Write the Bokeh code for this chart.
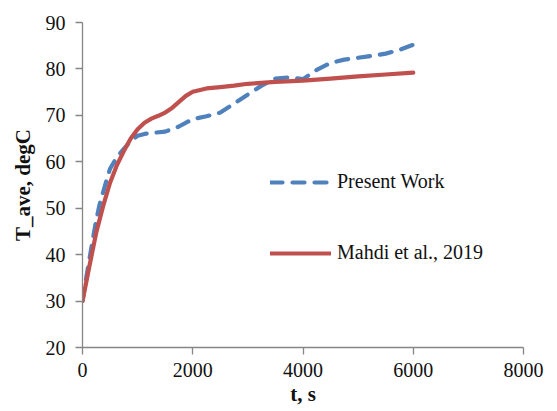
from bokeh.plotting import figure
from bokeh.models import Range1d, FixedTicker, Legend, LegendItem
from bokeh.embed import file_html
from bokeh.resources import INLINE

# Average temperature vs. time, two data sets
t_present = [0, 60, 125, 190, 250, 310, 375, 440, 500, 625, 750, 875, 1000, 1125, 1250,
             1500, 1750, 2000, 2250, 2500, 2750, 3000, 3250, 3500, 3750, 4000, 4250,
             4500, 4750, 5000, 5250, 5500, 5750, 6000]
T_present = [30, 34.5, 39, 43.5, 47.5, 50.8, 53.5, 56.2, 58.5, 61.0, 62.8, 64.5, 65.6, 66.0, 66.2,
             66.5, 67.6, 69.2, 69.8, 70.6, 72.5, 74.5, 76.4, 77.9, 78.2, 77.8, 79.8,
             81.3, 82.0, 82.4, 82.8, 83.3, 84.1, 85.2]

t_mahdi = [0, 125, 250, 375, 500, 625, 750, 875, 1000, 1125, 1250, 1375, 1500, 1625,
           1750, 1875, 2000, 2250, 2500, 2750, 3000, 3500, 4000, 4500, 5000, 5500, 6000]
T_mahdi = [30, 37.5, 44.8, 50.5, 55.5, 59.3, 62.3, 65.0, 67.0, 68.4, 69.3, 69.9, 70.6, 71.6,
           72.9, 74.2, 75.1, 75.8, 76.1, 76.4, 76.8, 77.2, 77.5, 77.9, 78.4, 78.8, 79.2]

x_ticks = [0, 2000, 4000, 6000, 8000]
y_ticks = [20, 30, 40, 50, 60, 70, 80, 90]

series_names = ["Present Work", "Mahdi et al., 2019"]
BLUE = "#4F81BD"
RED = "#C0504D"
AXIS_GRAY = "#868686"
SERIF = "Liberation Serif"

p = figure(width=557, height=411, output_backend="svg", toolbar_location=None,
           x_range=Range1d(0, 8000), y_range=Range1d(20, 90),
           min_border_left=82, min_border_right=34, min_border_top=22, min_border_bottom=64)
p.outline_line_color = None
p.grid.visible = False
p.title.text_font = SERIF
p.title.text_font_style = "normal"

r_present = p.line(t_present, T_present, line_color=BLUE, line_width=4.2,
                   line_dash="12 10", line_cap="round", line_join="round")
r_mahdi = p.line(t_mahdi, T_mahdi, line_color=RED, line_width=4.2,
                 line_cap="round", line_join="round")

p.xaxis.ticker = FixedTicker(ticks=x_ticks)
p.yaxis.ticker = FixedTicker(ticks=y_ticks)
p.axis.axis_line_color = AXIS_GRAY
p.axis.axis_line_width = 1.3
p.axis.major_tick_line_color = AXIS_GRAY
p.axis.major_tick_line_width = 1.3
p.axis.major_tick_in = 0
p.axis.major_tick_out = 7
p.axis.minor_tick_line_color = None
p.axis.major_label_text_font = SERIF
p.axis.major_label_text_font_style = "normal"
p.axis.major_label_text_font_size = "20px"
p.axis.major_label_text_color = "#111111"
p.axis.axis_label_text_font = SERIF
p.axis.axis_label_text_font_style = "bold"
p.axis.axis_label_text_font_size = "21px"
p.axis.axis_label_text_color = "#111111"

p.xaxis.axis_label = "t, s"
p.yaxis.axis_label = "T_ave, degC"
p.yaxis.major_label_standoff = 10
p.xaxis.major_label_standoff = 8
p.xaxis.axis_label_standoff = 2
p.yaxis.axis_label_standoff = 8

legend = Legend(items=[LegendItem(label=series_names[0], renderers=[r_present]),
                       LegendItem(label=series_names[1], renderers=[r_mahdi])],
                location=(188, 83), orientation="vertical",
                glyph_width=61, glyph_height=20, label_height=20, spacing=48,
                label_standoff=6, padding=0, margin=0,
                border_line_color=None, background_fill_alpha=0,
                label_text_font=SERIF, label_text_font_style="normal",
                label_text_font_size="20px", label_text_color="#111111")
p.add_layout(legend)

open("out.html", "w").write(file_html(p, INLINE))
